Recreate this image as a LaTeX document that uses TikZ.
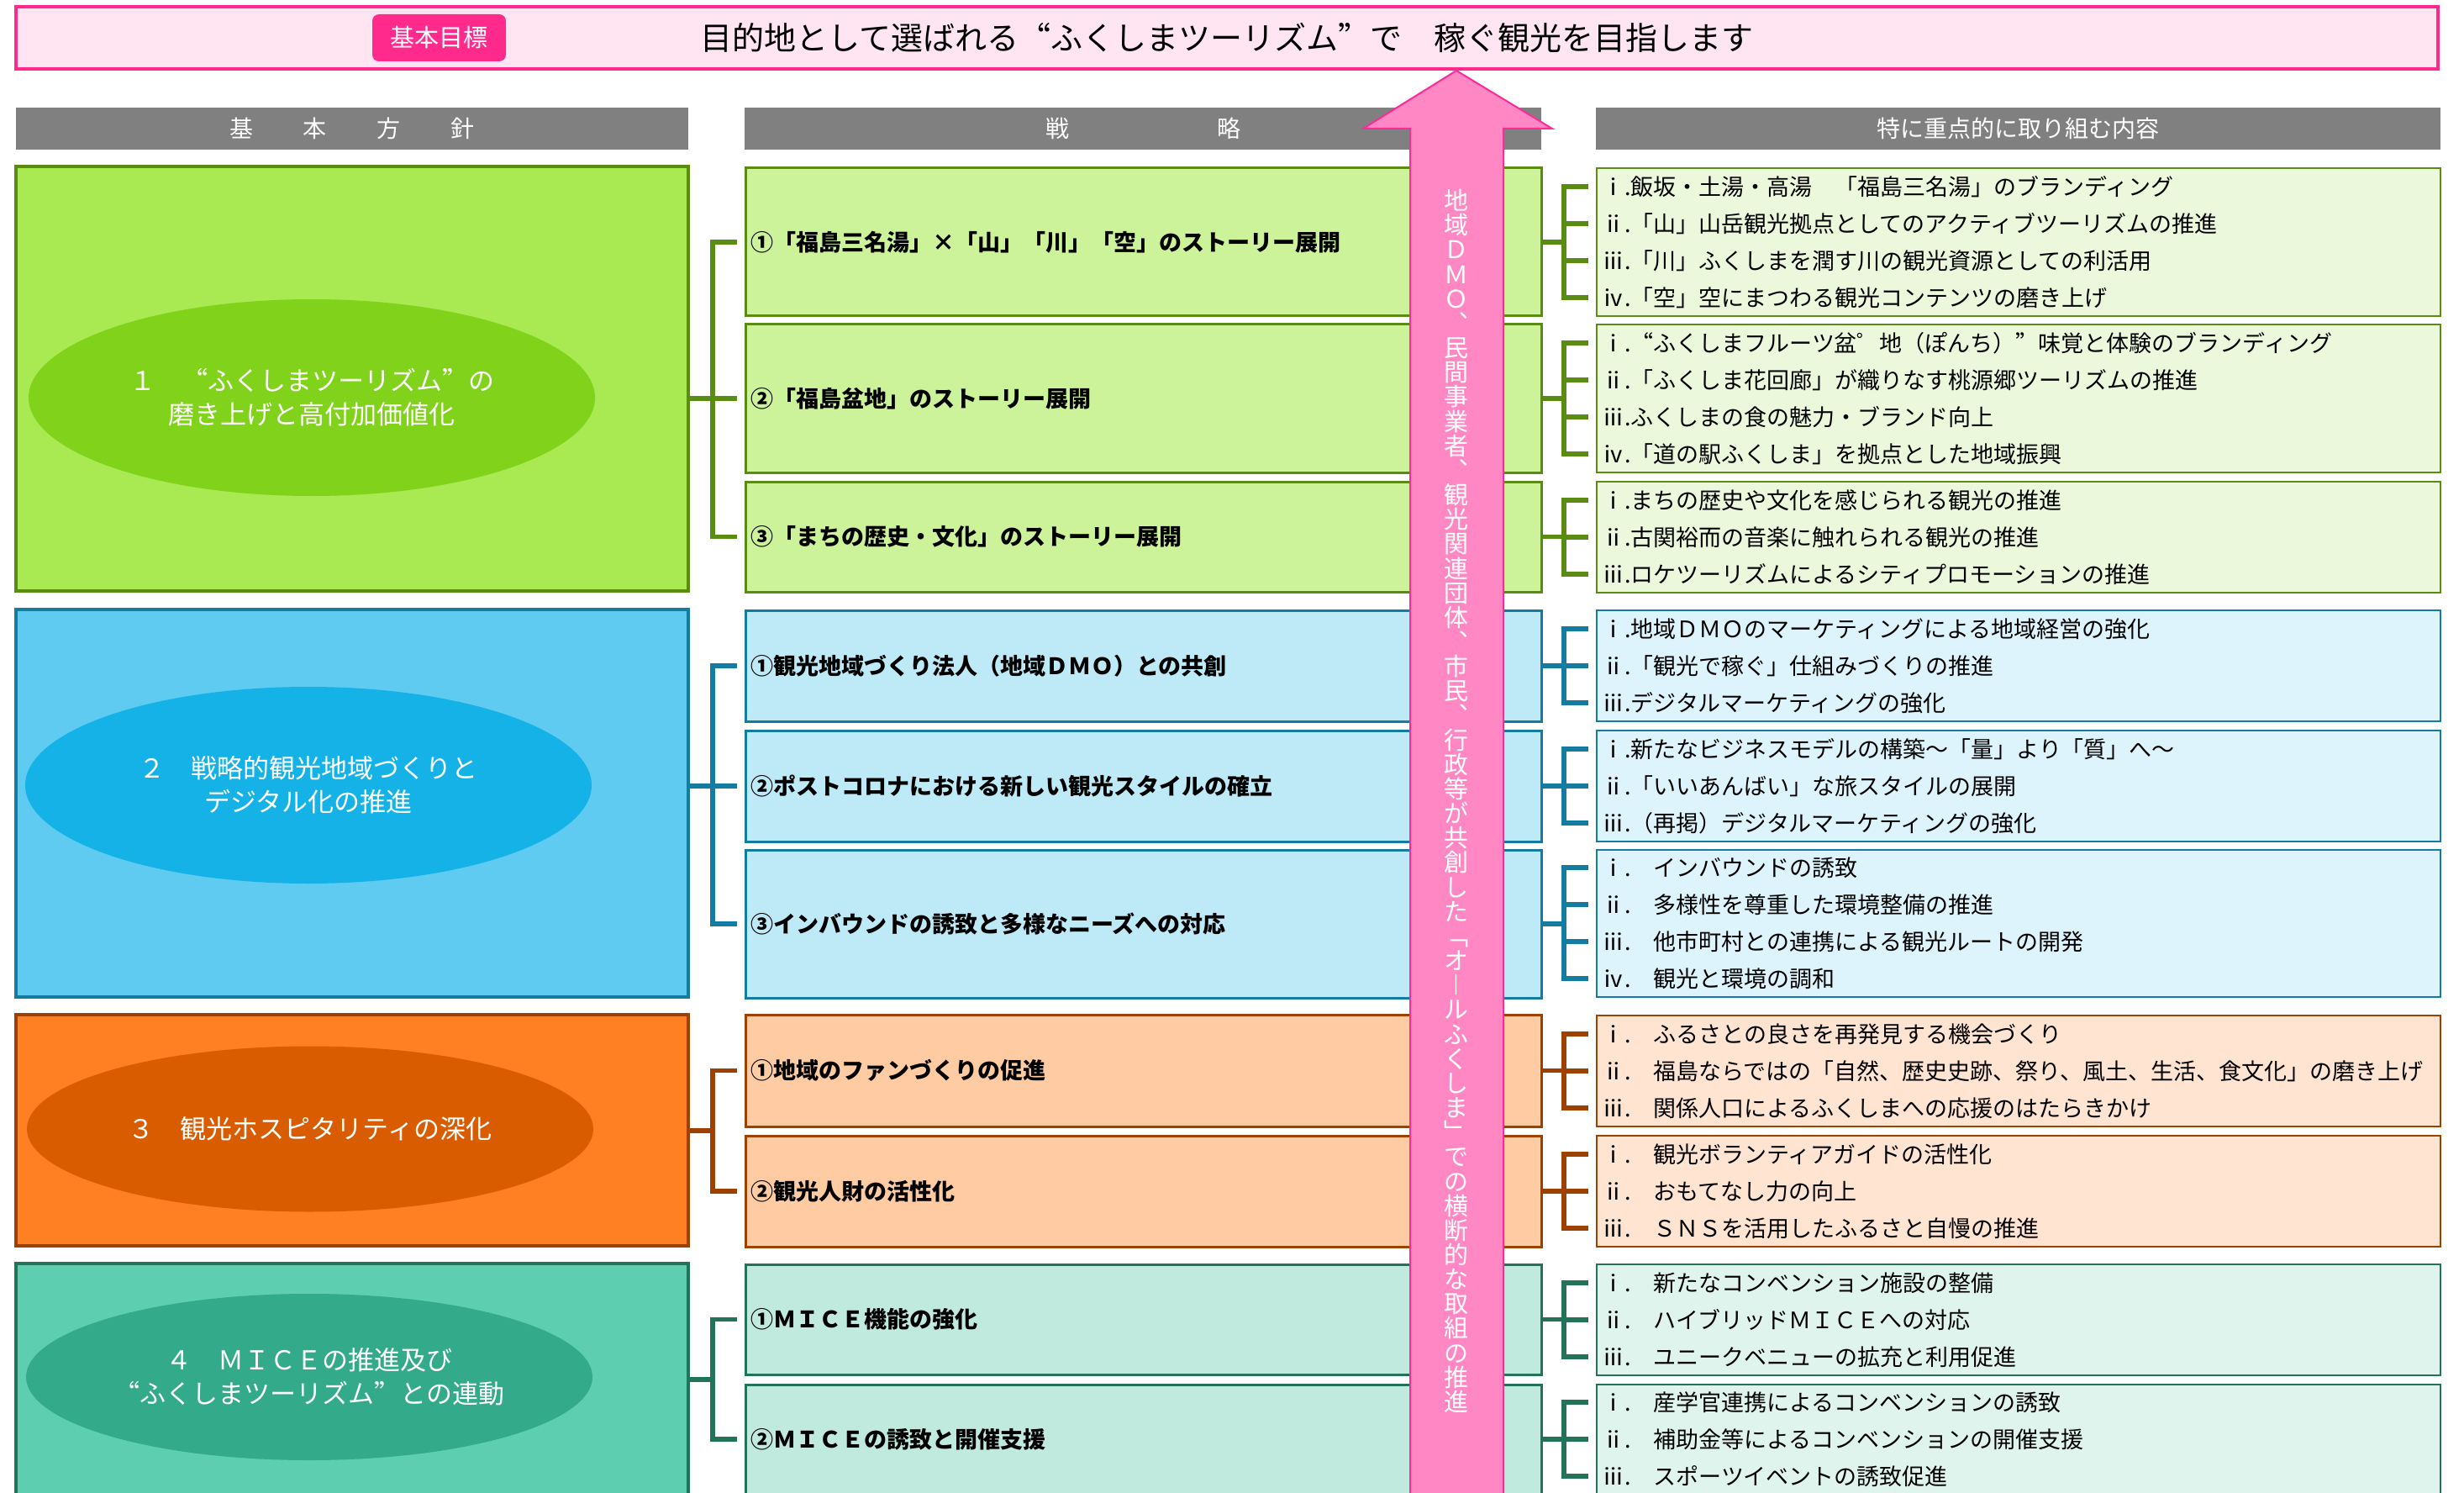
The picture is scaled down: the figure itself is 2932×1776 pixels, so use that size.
\documentclass[tikz,border=0pt]{standalone}
\usepackage{fontspec}
\setmainfont{Noto Sans CJK JP}
\usetikzlibrary{shapes.geometric}
\definecolor{pinkb}{RGB}{255,42,140}
\definecolor{pinkbg}{RGB}{255,229,241}
\definecolor{arrfill}{RGB}{255,136,196}
\definecolor{arrline}{RGB}{255,42,154}
\definecolor{hdrgray}{RGB}{128,128,128}
\definecolor{gBig}{RGB}{169,234,82}
\definecolor{gEll}{RGB}{128,210,26}
\definecolor{gS}{RGB}{204,242,154}
\definecolor{gT}{RGB}{235,248,219}
\definecolor{gD}{RGB}{90,140,20}
\definecolor{bBig}{RGB}{95,203,241}
\definecolor{bEll}{RGB}{20,178,231}
\definecolor{bS}{RGB}{190,234,248}
\definecolor{bT}{RGB}{221,244,252}
\definecolor{bD}{RGB}{19,124,160}
\definecolor{oBig}{RGB}{255,128,34}
\definecolor{oEll}{RGB}{217,93,0}
\definecolor{oS}{RGB}{255,203,163}
\definecolor{oT}{RGB}{255,228,210}
\definecolor{oD}{RGB}{156,65,0}
\definecolor{tBig}{RGB}{94,206,176}
\definecolor{tEll}{RGB}{51,170,138}
\definecolor{tS}{RGB}{192,234,221}
\definecolor{tT}{RGB}{224,244,238}
\definecolor{tD}{RGB}{35,115,90}
\newcommand\fwlq{{\addfontfeature{CharacterWidth=Full}“}}
\newcommand\fwrq{{\addfontfeature{CharacterWidth=Full}”}}
\newcommand\rbr[5]{%
  \coordinate (#3) at ([xshift=27pt]#2.east);
  \draw[conn,#1] (#2.east) -- (#3);
  \draw[conn,#1] ([xshift=-16pt]#4.west) -| (#3 |- #5.west) -- ([xshift=-16pt]#5.west);}
\newcommand\mst[3]{\draw[conn,#1] (#2 |- #3.west) -- ([xshift=-16pt]#3.west);}
\newcommand\dl[3]{\node[detline] (#1) at (1906,#2) {#3};}
\begin{document}
\begin{tikzpicture}[x=1pt,y=-1pt,
  every node/.style={inner sep=0pt, outer sep=0pt},
  bigbox/.style={draw, line width=4pt, anchor=north west, minimum width=800pt},
  stratbox/.style={draw, line width=3pt, anchor=north west, minimum width=947pt,
     inner xsep=6pt, text width=935pt, align=left,
     font=\fontsize{27pt}{30pt}\selectfont\bfseries},
  detbox/.style={draw, line width=2.5pt, anchor=north west, minimum width=1004pt},
  detline/.style={anchor=west, font=\fontsize{27pt}{30pt}\selectfont, text height=23.8pt, text depth=3.2pt},
  conn/.style={line width=5.5pt},
  ell/.style={ellipse, minimum width=674pt, text=white, align=center,
     font=\fontsize{31pt}{40pt}\selectfont},
  hdr/.style={fill=hdrgray, anchor=north west, minimum height=50pt, text=white,
     font=\fontsize{28pt}{30pt}\selectfont, text height=24.6pt, text depth=3.4pt},
  vch/.style={text=white, font=\fontsize{29pt}{29pt}\selectfont, text height=25.5pt, text depth=3.5pt}
]
\useasboundingbox (0,0) rectangle (2932,1776);
\clip (0,0) rectangle (2932,1776);

% top banner
\node[draw=pinkb, line width=4pt, fill=pinkbg, anchor=north west, minimum width=2882pt, minimum height=74pt] (banner) at (19,8) {};
\node[fill=pinkb, rounded corners=8pt, anchor=north west, minimum width=159pt, minimum height=56pt, text=white, font=\fontsize{29pt}{30pt}\selectfont, text height=25.5pt, text depth=3.5pt] (badge) at (443,17) {基本目標};
\node[font=\fontsize{38pt}{40pt}\selectfont, text height=33.4pt, text depth=4.6pt] (title) at (1460,45) {目的地として選ばれる\fwlq ふくしまツーリズム\fwrq で　稼ぐ観光を目指します};

% headers
\node[hdr, minimum width=800pt] (h1) at (19,128) {基\hspace{60pt}本\hspace{60pt}方\hspace{60pt}針};
\node[hdr, minimum width=948pt] (h2) at (886,128) {戦\hspace{176pt}略};
\node[hdr, minimum width=1005pt] (h3) at (1899,128) {特に重点的に取り組む内容};

% big boxes
\node[bigbox, draw=gD, fill=gBig, minimum height=505pt] (gbox) at (19,198) {};
\node[bigbox, draw=bD, fill=bBig, minimum height=461pt] (bbox) at (19,725) {};
\node[bigbox, draw=oD, fill=oBig, minimum height=275pt] (obox) at (19,1207) {};
\node[bigbox, draw=tD, fill=tBig, minimum height=320pt] (tbox) at (19,1503) {};

% ellipses
\node[ell, fill=gEll, minimum height=234pt] (gell) at (371,473) {１　\fwlq ふくしまツーリズム\fwrq の\\磨き上げと高付加価値化};
\node[ell, fill=bEll, minimum height=234pt] (bell) at (367,934) {２　戦略的観光地域づくりと\\デジタル化の推進};
\node[ell, fill=oEll, minimum height=197pt] (oell) at (369,1343) {３　観光ホスピタリティの深化};
\node[ell, fill=tEll, minimum height=198pt] (tell) at (368,1638) {４　ＭＩＣＥの推進及び\\\fwlq ふくしまツーリズム\fwrq との連動};

% strategy boxes
\node[stratbox, draw=gD, fill=gS, minimum height=176pt] (gs1) at (887,200) {①「福島三名湯」×「山」「川」「空」のストーリー展開};
\node[stratbox, draw=gD, fill=gS, minimum height=176pt] (gs2) at (887,386) {②「福島盆地」のストーリー展開};
\node[stratbox, draw=gD, fill=gS, minimum height=131pt] (gs3) at (887,573) {③「まちの歴史・文化」のストーリー展開};
\node[stratbox, draw=bD, fill=bS, minimum height=132pt] (bs1) at (887,726) {①観光地域づくり法人（地域ＤＭＯ）との共創};
\node[stratbox, draw=bD, fill=bS, minimum height=132pt] (bs2) at (887,869) {②ポストコロナにおける新しい観光スタイルの確立};
\node[stratbox, draw=bD, fill=bS, minimum height=176pt] (bs3) at (887,1011) {③インバウンドの誘致と多様なニーズへの対応};
\node[stratbox, draw=oD, fill=oS, minimum height=133pt] (os1) at (887,1207) {①地域のファンづくりの促進};
\node[stratbox, draw=oD, fill=oS, minimum height=132pt] (os2) at (887,1351) {②観光人財の活性化};
\node[stratbox, draw=tD, fill=tS, minimum height=131pt] (ts1) at (887,1504) {①ＭＩＣＥ機能の強化};
\node[stratbox, draw=tD, fill=tS, minimum height=130pt] (ts2) at (887,1647) {②ＭＩＣＥの誘致と開催支援};

% detail boxes
\node[detbox, draw=gD, fill=gT, minimum height=176pt] (gd1) at (1900,200) {};
\node[detbox, draw=gD, fill=gT, minimum height=176pt] (gd2) at (1900,386) {};
\node[detbox, draw=gD, fill=gT, minimum height=132pt] (gd3) at (1900,573) {};
\node[detbox, draw=bD, fill=bT, minimum height=132pt] (bd1) at (1900,726) {};
\node[detbox, draw=bD, fill=bT, minimum height=132pt] (bd2) at (1900,869) {};
\node[detbox, draw=bD, fill=bT, minimum height=175pt] (bd3) at (1900,1011) {};
\node[detbox, draw=oD, fill=oT, minimum height=132pt] (od1) at (1900,1208) {};
\node[detbox, draw=oD, fill=oT, minimum height=132pt] (od2) at (1900,1351) {};
\node[detbox, draw=tD, fill=tT, minimum height=132pt] (td1) at (1900,1504) {};
\node[detbox, draw=tD, fill=tT, minimum height=130pt] (td2) at (1900,1647) {};

% detail lines
\dl{g1a}{222}{ⅰ.飯坂・土湯・高湯　「福島三名湯」のブランディング}
\dl{g1b}{266}{ⅱ.「山」山岳観光拠点としてのアクティブツーリズムの推進}
\dl{g1c}{310}{ⅲ.「川」ふくしまを潤す川の観光資源としての利活用}
\dl{g1d}{354}{ⅳ.「空」空にまつわる観光コンテンツの磨き上げ}
\dl{g2a}{408}{ⅰ.\fwlq ふくしまフルーツ盆゜地（ぽんち）\fwrq 味覚と体験のブランディング}
\dl{g2b}{452}{ⅱ.「ふくしま花回廊」が織りなす桃源郷ツーリズムの推進}
\dl{g2c}{496}{ⅲ.ふくしまの食の魅力・ブランド向上}
\dl{g2d}{540}{ⅳ.「道の駅ふくしま」を拠点とした地域振興}
\dl{g3a}{595}{ⅰ.まちの歴史や文化を感じられる観光の推進}
\dl{g3b}{639}{ⅱ.古関裕而の音楽に触れられる観光の推進}
\dl{g3c}{683}{ⅲ.ロケツーリズムによるシティプロモーションの推進}
\dl{b1a}{748}{ⅰ.地域ＤＭＯのマーケティングによる地域経営の強化}
\dl{b1b}{792}{ⅱ.「観光で稼ぐ」仕組みづくりの推進}
\dl{b1c}{836}{ⅲ.デジタルマーケティングの強化}
\dl{b2a}{891}{ⅰ.新たなビジネスモデルの構築～「量」より「質」へ～}
\dl{b2b}{935}{ⅱ.「いいあんばい」な旅スタイルの展開}
\dl{b2c}{979}{ⅲ.（再掲）デジタルマーケティングの強化}
\dl{b3a}{1032}{ⅰ.　インバウンドの誘致}
\dl{b3b}{1076}{ⅱ.　多様性を尊重した環境整備の推進}
\dl{b3c}{1120}{ⅲ.　他市町村との連携による観光ルートの開発}
\dl{b3d}{1164}{ⅳ.　観光と環境の調和}
\dl{o1a}{1230}{ⅰ.　ふるさとの良さを再発見する機会づくり}
\dl{o1b}{1274}{ⅱ.　福島ならではの「自然、歴史史跡、祭り、風土、生活、食文化」の磨き上げ}
\dl{o1c}{1318}{ⅲ.　関係人口によるふくしまへの応援のはたらきかけ}
\dl{o2a}{1373}{ⅰ.　観光ボランティアガイドの活性化}
\dl{o2b}{1417}{ⅱ.　おもてなし力の向上}
\dl{o2c}{1461}{ⅲ.　ＳＮＳを活用したふるさと自慢の推進}
\dl{t1a}{1526}{ⅰ.　新たなコンベンション施設の整備}
\dl{t1b}{1570}{ⅱ.　ハイブリッドＭＩＣＥへの対応}
\dl{t1c}{1614}{ⅲ.　ユニークベニューの拡充と利用促進}
\dl{t2a}{1668}{ⅰ.　産学官連携によるコンベンションの誘致}
\dl{t2b}{1712}{ⅱ.　補助金等によるコンベンションの開催支援}
\dl{t2c}{1756}{ⅲ.　スポーツイベントの誘致促進}

% left brackets
\coordinate (gj) at (848,474);
\coordinate (bj) at (848,935);
\coordinate (oj) at (848,1345);
\coordinate (tj) at (848,1641);
\draw[conn,gD] (gbox.east |- gj) -- (gj);
\draw[conn,gD] ([xshift=-10pt]gs1.west) -| (gj |- gs3.west) -- ([xshift=-10pt]gs3.west);
\draw[conn,gD] (gj) -- ([xshift=-10pt]gs2.west);
\draw[conn,bD] (bbox.east |- bj) -- (bj);
\draw[conn,bD] ([xshift=-10pt]bs1.west) -| (bj |- bs3.west) -- ([xshift=-10pt]bs3.west);
\draw[conn,bD] (bj) -- ([xshift=-10pt]bs2.west);
\draw[conn,oD] (obox.east |- oj) -- (oj);
\draw[conn,oD] ([xshift=-10pt]os1.west) -| (oj |- os2.west) -- ([xshift=-10pt]os2.west);
\draw[conn,tD] (tbox.east |- tj) -- (tj);
\draw[conn,tD] ([xshift=-10pt]ts1.west) -| (tj |- ts2.west) -- ([xshift=-10pt]ts2.west);

% right brackets
\rbr{gD}{gs1}{gr1}{g1a}{g1d} \mst{gD}{gr1}{g1b} \mst{gD}{gr1}{g1c}
\rbr{gD}{gs2}{gr2}{g2a}{g2d} \mst{gD}{gr2}{g2b} \mst{gD}{gr2}{g2c}
\rbr{gD}{gs3}{gr3}{g3a}{g3c} \mst{gD}{gr3}{g3b}
\rbr{bD}{bs1}{br1}{b1a}{b1c} \mst{bD}{br1}{b1b}
\rbr{bD}{bs2}{br2}{b2a}{b2c} \mst{bD}{br2}{b2b}
\rbr{bD}{bs3}{br3}{b3a}{b3d} \mst{bD}{br3}{b3b} \mst{bD}{br3}{b3c}
\rbr{oD}{os1}{or1}{o1a}{o1c} \mst{oD}{or1}{o1b}
\rbr{oD}{os2}{or2}{o2a}{o2c} \mst{oD}{or2}{o2b}
\rbr{tD}{ts1}{tr1}{t1a}{t1c} \mst{tD}{tr1}{t1b}
\rbr{tD}{ts2}{tr2}{t2a}{t2c} \mst{tD}{tr2}{t2b}

% big pink arrow
\draw[fill=arrfill, draw=arrline, line width=2pt, line join=miter]
  (1733,84) -- (1847,153) -- (1789,153) -- (1789,1800) -- (1678,1800) -- (1678,153) -- (1622,153) -- cycle;
\foreach \c [count=\i from 0] in {地,域,Ｄ,Ｍ,Ｏ,︑,民,間,事,業,者,︑,観,光,関,連,団,体,︑,市,民,︑,行,政,等,が,共,創,し,た,﹁,オ,︱,ル,ふ,く,し,ま,﹂,で,の,横,断,的,な,取,組,の,推,進}
  \node[vch] (v\i) at (1733,238.6+29.16*\i) {\c};
\end{tikzpicture}
\end{document}
